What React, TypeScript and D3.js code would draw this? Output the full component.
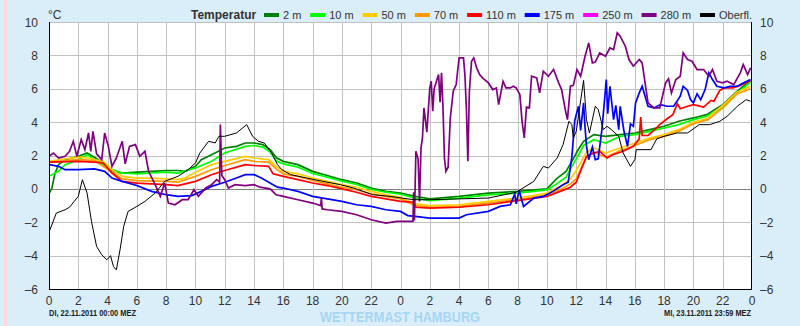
import * as d3 from 'd3';
import React from 'react';

type Pt = [number, number]; // [hour since start, °C]

const FONT = '"Liberation Sans", Arial, sans-serif';
const BG = '#daeefa';

// hours from DI 22.11.2011 00:00 to MI 23.11.2011 23:59
const hourTicks = d3.range(0, 49, 2);
const tempTicks = d3.range(-6, 11, 2);

const t2m: Pt[] = [
  [0, -0.3], [0.2, 0.05], [0.4, 0.9], [0.65, 1.45], [1.1, 1.75], [2, 1.95], [2.6, 2.15], [3.1, 1.9],
  [3.7, 1.55], [4.05, 1.25], [4.5, 1.0], [5, 0.95], [6, 1.0], [7, 1.05], [8, 1.1], [8.8, 1.1],
  [9.3, 1.05], [10, 1.35], [10.4, 1.75], [11.1, 2.05], [12, 2.45], [12.8, 2.55], [13.4, 2.75],
  [14, 2.75], [14.6, 2.65], [15.1, 2.35], [15.55, 1.85], [16, 1.65], [17, 1.45], [18, 1.05],
  [19, 0.8], [20, 0.55], [21, 0.35], [22, 0.05], [23, -0.15], [24, -0.25], [25, -0.45], [26, -0.6],
  [28, -0.45], [30, -0.25], [32, -0.15], [34, 0.0], [34.65, 0.6], [35.3, 1.05], [35.8, 1.8],
  [36.1, 2.3], [36.5, 2.85], [37.2, 3.25], [38, 3.15], [39, 3.25], [40, 3.35], [41, 3.55],
  [42, 3.75], [43, 4.05], [44, 4.25], [44.9, 4.45], [46, 5.05], [47, 5.85], [47.9, 6.5],
];

const t10m: Pt[] = [
  [0, 0.75], [0.65, 1.05], [1.1, 1.45], [2, 1.75], [2.6, 2.05], [3.1, 1.75], [4.05, 1.25], [5, 0.95],
  [6, 0.9], [7, 0.95], [8, 1.0], [8.8, 0.95], [10, 1.25], [11.1, 1.65], [12, 2.15], [13.4, 2.55],
  [14, 2.6], [14.6, 2.5], [15.1, 2.2], [15.55, 1.65], [16, 1.5], [17, 1.3], [18, 0.92], [19, 0.7],
  [20, 0.46], [21, 0.26], [22, -0.04], [23, -0.2], [24, -0.32], [25, -0.55], [26, -0.7], [28, -0.55],
  [30, -0.36], [32, -0.26], [34, -0.06], [34.65, 0.3], [35.3, 0.7], [35.6, 1.2], [36, 1.8],
  [36.5, 2.6], [37.2, 2.95], [38, 2.75], [39, 3.15], [40, 3.25], [41, 3.45], [42, 3.65], [43, 3.85],
  [44, 4.15], [44.9, 4.35], [46, 4.85], [47, 5.75], [47.9, 6.4],
];

const t50m: Pt[] = [
  [0, 1.65], [1.1, 1.8], [2, 1.9], [2.6, 1.85], [3.1, 1.75], [3.7, 1.65], [4.3, 1.15], [5, 0.75],
  [6, 0.65], [7, 0.65], [8, 0.6], [8.8, 0.55], [9.3, 0.65], [10, 1.0], [11.1, 1.45], [12, 1.65],
  [13.4, 1.95], [14, 1.85], [15, 1.75], [15.5, 1.35], [16, 1.05], [17, 0.9], [18, 0.65], [19, 0.45],
  [20, 0.25], [21, 0.1], [22, -0.15], [23, -0.35], [24, -0.5], [25, -0.9], [26, -1.0], [28, -0.95],
  [30, -0.75], [32, -0.55], [34, -0.25], [35, 0.2], [35.6, 0.6], [36, 1.1], [36.7, 2.2], [37.2, 2.45],
  [38, 2.15], [39, 2.45], [40, 2.75], [41, 3.05], [42, 3.25], [43, 3.55], [44, 4.0], [44.9, 4.2],
  [46, 5.0], [47, 5.8], [47.9, 6.15],
];

const t70m: Pt[] = [
  [0, 1.6], [2, 1.75], [3.1, 1.7], [4.3, 1.0], [5, 0.6], [6, 0.5], [8, 0.45], [8.8, 0.4], [10, 0.75],
  [11.1, 1.15], [12, 1.4], [13.4, 1.75], [14, 1.65], [15, 1.6], [15.5, 1.2], [16, 0.9], [17, 0.75],
  [18, 0.5], [19, 0.3], [20, 0.1], [21, -0.05], [22, -0.3], [23, -0.45], [24, -0.6], [25, -1.0],
  [26, -1.1], [28, -1.05], [30, -0.85], [32, -0.65], [34, -0.35], [35, 0.0], [35.6, 0.3], [36, 0.6],
  [36.7, 1.9], [37.2, 2.2], [38, 1.9], [39, 2.3], [40, 2.6], [41, 2.95], [42, 3.15], [43, 3.45],
  [44, 3.9], [45, 4.15], [46, 4.85], [47, 5.7], [47.9, 6.0],
];

const t110m: Pt[] = [
  [0, 1.6], [2, 1.65], [3.1, 1.6], [3.7, 1.55], [4.3, 0.95], [5, 0.45], [6, 0.35], [8, 0.25],
  [8.8, 0.2], [10, 0.45], [11.1, 0.85], [12, 1.1], [13.4, 1.45], [14, 1.4], [15, 1.35], [15.3, 0.9],
  [16, 0.75], [17, 0.55], [18, 0.35], [19, 0.2], [20, 0.0], [21, -0.2], [22, -0.45], [23, -0.6],
  [24, -0.75], [24.9, -0.8], [25.05, -1.1], [26, -1.15], [28, -1.1], [30, -0.95], [32, -0.7],
  [34, -0.45], [34.9, -0.15], [35.6, 0.1], [36, 0.4], [36.4, 1.3], [36.7, 1.95], [37.2, 2.15],
  [37.6, 2.25], [38.1, 1.85], [38.5, 2.05], [39.2, 2.25], [39.9, 2.55], [40.3, 3.0], [40.4, 4.3],
  [40.5, 3.2], [40.9, 3.2], [41.3, 3.5], [41.7, 3.85], [42.2, 4.2], [42.6, 4.45], [42.9, 5.1],
  [43.1, 4.8], [43.6, 4.95], [44, 5.05], [44.7, 4.9], [45.2, 5.3], [45.4, 5.25], [45.8, 5.9],
  [46.1, 6.05], [46.7, 6.05], [47.2, 6.2], [47.9, 6.5],
];

const t175m: Pt[] = [
  [0, 1.45], [0.65, 1.35], [1.1, 1.15], [2, 1.15], [3.1, 1.2], [3.8, 1.05], [4.3, 0.65], [5, 0.45],
  [6, 0.2], [7, -0.15], [8, -0.35], [8.8, -0.45], [9.75, -0.4], [10.4, -0.15], [11.1, 0.15],
  [12, 0.4], [12.8, 0.65], [13.4, 0.85], [14, 0.85], [14.5, 0.65], [15.3, 0.25], [15.6, 0.1],
  [16, 0.05], [17, -0.15], [18, -0.45], [19, -0.6], [20, -0.75], [21, -0.95], [22, -1.05],
  [23, -1.25], [24, -1.35], [24.5, -1.6], [25, -1.65], [26, -1.75], [28, -1.75], [28.5, -1.55],
  [30, -1.35], [30.8, -1.05], [31.5, -0.95], [31.8, -0.3], [31.9, -0.9], [32.1, -0.1], [32.4, -1.05],
  [33.1, -0.55], [33.75, -0.45], [34.4, -0.15], [35.1, 0.25], [35.45, 0.4], [35.7, 1.9], [35.9, 4.1],
  [36.15, 4.95], [36.3, 3.5], [36.5, 5.15], [36.6, 3.7], [36.7, 2.55], [36.85, 1.75], [37.1, 2.5],
  [37.3, 1.75], [37.5, 1.8], [37.75, 3.55], [37.9, 5.0], [38.05, 6.55], [38.15, 4.5], [38.3, 6.15],
  [38.55, 4.15], [38.7, 5.0], [38.9, 3.55], [39.0, 4.95], [39.25, 3.5], [39.5, 2.55], [39.7, 3.9],
  [39.9, 3.75], [40.05, 5.15], [40.3, 5.75], [40.5, 6.15], [40.7, 5.55], [40.9, 4.95], [41.3, 4.85],
  [41.75, 5.05], [42.2, 4.95], [42.65, 4.95], [43.1, 5.55], [43.3, 6.15], [43.6, 5.9], [43.8, 5.35],
  [44, 5.15], [44.25, 5.7], [44.5, 5.35], [44.8, 5.95], [45.05, 6.95], [45.3, 6.55], [45.6, 6.15],
  [46.1, 6.05], [46.5, 6.15], [47, 6.15], [47.4, 6.35], [47.9, 6.55],
];

const t250m: Pt[] = []; // no data in this period

const t280m: Pt[] = [
  [0, 1.95], [0.3, 2.15], [0.65, 1.85], [1.1, 1.95], [1.4, 2.25], [1.66, 2.85], [1.9, 1.95],
  [2.2, 2.95], [2.45, 2.35], [2.7, 3.35], [2.85, 2.25], [3.0, 3.45], [3.25, 2.1], [3.6, 1.75],
  [3.8, 3.35], [4.05, 2.55], [4.3, 1.35], [4.6, 1.85], [5.0, 2.85], [5.2, 1.5], [5.5, 2.55],
  [5.9, 2.65], [6.2, 1.95], [6.55, 2.25], [6.8, 1.05], [7.25, 0.25], [7.6, -0.45], [7.9, 0.35],
  [8.15, -0.85], [8.6, -0.95], [9.1, -0.65], [9.5, -0.65], [9.9, -0.05], [10.2, -0.45], [10.7, 0.05],
  [11.1, 0.25], [11.45, 0.55], [11.65, 0.4], [11.7, 3.85], [11.8, 0.8], [12, 0.55], [12.25, 0.05],
  [12.7, 0.25], [13.4, 0.2], [14, 0.25], [14.4, 0.1], [15.1, 0.0], [15.5, -0.35], [16, -0.45],
  [17, -0.65], [18, -0.85], [18.55, -1.0], [18.6, -0.55], [18.65, -1.2], [19, -1.25], [20, -1.35],
  [21, -1.55], [22, -1.85], [23, -2.05], [23.75, -1.95], [24.85, -1.95], [24.9, -0.2], [24.95, -1.9],
  [25.05, 2.25], [25.2, 1.8], [25.3, -0.75], [25.4, 2.45], [25.5, 3.05], [25.6, 4.85], [25.8, 3.4],
  [26, 6.05], [26.1, 6.45], [26.2, 4.65], [26.3, 6.0], [26.6, 6.85], [26.7, 5.2], [26.8, 6.95],
  [26.9, 4.9], [27.0, 1.85], [27.1, 1.05], [27.25, 1.3], [27.4, 4.25], [27.6, 5.85], [27.8, 6.25],
  [28, 7.85], [28.3, 7.85], [28.4, 6.8], [28.5, 4.8], [28.6, 1.65], [28.7, 5.8], [28.85, 7.65],
  [29.0, 7.85], [29.2, 7.25], [29.4, 6.85], [29.6, 6.65], [30, 6.35], [30.3, 5.95], [30.55, 6.05],
  [30.7, 5.05], [31, 6.45], [31.2, 6.05], [31.5, 6.05], [31.7, 6.15], [31.9, 6.05], [32.15, 5.65],
  [32.3, 4.05], [32.45, 3.05], [32.6, 4.9], [32.8, 4.85], [32.95, 6.75], [33.3, 6.65], [33.5, 5.75],
  [33.75, 7.05], [34.1, 6.75], [34.45, 7.15], [34.8, 6.35], [35.0, 5.95], [35.25, 4.75], [35.4, 4.15],
  [35.6, 6.15], [35.8, 6.2], [36.05, 7.15], [36.3, 6.75], [36.6, 7.95], [36.85, 8.75], [37.1, 7.55],
  [37.3, 7.6], [37.6, 8.15], [38, 7.95], [38.3, 8.45], [38.55, 8.35], [38.8, 9.35], [39, 9.15],
  [39.35, 8.55], [39.6, 7.75], [39.9, 7.35], [40.3, 7.75], [40.5, 7.55], [40.7, 6.35], [40.9, 5.15],
  [41.3, 4.85], [41.7, 4.85], [42.1, 6.35], [42.3, 6.6], [42.5, 5.75], [42.8, 6.55], [43.1, 6.75],
  [43.3, 8.15], [43.6, 7.75], [43.9, 7.65], [44.25, 7.15], [44.7, 7.15], [45.05, 6.75], [45.3, 7.15],
  [45.6, 6.45], [46, 6.35], [46.3, 6.45], [46.75, 6.25], [47.2, 6.95], [47.4, 7.45], [47.7, 6.85],
  [47.9, 7.25],
];

const tSurface: Pt[] = [
  [0, -2.6], [0.5, -1.45], [1.1, -1.25], [1.4, -1.1], [2, -0.45], [2.28, 0.55], [2.6, -0.25],
  [2.9, -1.95], [3.25, -3.45], [3.6, -3.95], [3.95, -4.25], [4.2, -4.0], [4.4, -4.65], [4.6, -4.85],
  [4.85, -3.65], [5.1, -2.25], [5.4, -1.35], [6, -1.05], [6.55, -0.75], [7.25, -0.25], [7.9, 0.45],
  [8.8, 0.75], [9.5, 1.15], [10, 1.55], [10.3, 2.15], [10.9, 2.85], [11.35, 2.75], [11.6, 3.15],
  [12, 3.15], [12.8, 3.35], [13.5, 3.85], [13.9, 3.15], [14.3, 2.85], [14.7, 2.75], [15.2, 2.15],
  [15.6, 1.45], [15.9, 1.15], [16.5, 0.85], [17.6, 0.65], [18.7, 0.45], [19.9, 0.25], [20.8, 0.05],
  [22.1, -0.35], [23.3, -0.45], [24.9, -0.65], [26, -0.65], [28, -0.6], [30, -0.55], [31.9, -0.2],
  [33.1, 0.45], [33.75, 1.35], [34.1, 1.25], [34.7, 1.85], [35.1, 2.65], [35.5, 4.05], [35.7, 3.85],
  [35.8, 3.05], [36, 3.45], [36.5, 6.5], [36.7, 4.15], [36.9, 3.35], [37.3, 4.95], [37.5, 4.75],
  [37.85, 3.55], [38.1, 3.75], [38.4, 3.55], [38.9, 3.15], [39.2, 2.15], [39.7, 1.35], [40, 1.75],
  [40.1, 2.35], [41.1, 2.35], [41.5, 3.0], [42, 3.15], [42.9, 3.35], [43.6, 3.35], [44.4, 3.85],
  [45.1, 3.85], [45.8, 4.05], [46.3, 4.35], [47, 4.95], [47.6, 5.35], [47.9, 5.25],
];

const series = [
  { label: '2 m', color: '#008000', data: t2m, w: 1.7 },
  { label: '10 m', color: '#00ff00', data: t10m, w: 1.7 },
  { label: '50 m', color: '#ffcc00', data: t50m, w: 1.7 },
  { label: '70 m', color: '#ff9900', data: t70m, w: 1.7 },
  { label: '110 m', color: '#ff0000', data: t110m, w: 1.7 },
  { label: '175 m', color: '#0000ff', data: t175m, w: 1.7 },
  { label: '250 m', color: '#ff00ff', data: t250m, w: 1.7 },
  { label: '280 m', color: '#800080', data: t280m, w: 1.7 },
  { label: 'Oberfl.', color: '#000000', data: tSurface, w: 1 },
];

const measure = (() => {
  const ctx = document.createElement('canvas').getContext('2d')!;
  return (s: string, font: string) => {
    ctx.font = font;
    return ctx.measureText(s).width;
  };
})();

const fmt = (v: number) => (v < 0 ? `–${Math.abs(v)}` : `${v}`);

export default function App() {
  const x = d3.scaleLinear().domain([0, 48]).range([49, 752]);
  const y = d3.scaleLinear().domain([-6, 10]).range([289, 22]);
  const line = d3.line<Pt>().x(d => x(d[0])).y(d => y(d[1]));
  const px = (v: number) => Math.round(v) + 0.5;

  // legend layout: "Temperatur" then swatch + label pairs, ending at the plot's right edge
  const labelFont = `11px ${FONT}`;
  const widths = series.map(s => measure(s.label, labelFont));
  const natural = widths.reduce((a, b) => a + b, 0) + series.length * 19;
  const gap = (752 - 264 - natural) / (series.length - 1);
  let cursor = 264;
  const legend = series.map((s, i) => {
    const item = { ...s, x: cursor };
    cursor += 19 + widths[i] + gap;
    return item;
  });

  return (
    <svg width={800} height={326} style={{ position: 'absolute', left: 0, top: 0 }} fontFamily={FONT}>
      <rect width={800} height={326} fill={BG} />
      <rect x={4} width={3} height={326} fill="#ffd9dc" />
      <rect x={49} y={22} width={703} height={267} fill="#fff" />

      {tempTicks.map(t => (
        <line key={`h${t}`} x1={49} x2={752} y1={px(y(t))} y2={px(y(t))}
          stroke={t === 0 ? '#808080' : '#c0c0c0'} strokeWidth={1} />
      ))}
      {hourTicks.slice(1, -1).map(h => (
        <line key={`v${h}`} x1={px(x(h))} x2={px(x(h))} y1={22} y2={289} stroke="#c0c0c0" strokeWidth={1} />
      ))}

      <g clipPath="url(#plot)">
        <clipPath id="plot"><rect x={49} y={22} width={703} height={267} /></clipPath>
        {series.map(s => (
          <path key={s.label} d={line(s.data) || ''} fill="none" stroke={s.color} strokeWidth={s.w}
            strokeLinejoin="miter" />
        ))}
      </g>

      <line x1={49.5} x2={49.5} y1={22} y2={289.5} stroke="#000" />
      <line x1={751.5} x2={751.5} y1={22} y2={289.5} stroke="#000" />
      <line x1={49} x2={752} y1={289.5} y2={289.5} stroke="#000" />

      {tempTicks.map(t => (
        <g key={`yl${t}`} fontSize={12} fill="#333">
          <text x={38} y={y(t) + 4.5} textAnchor="end">{fmt(t)}</text>
          <text x={760} y={y(t) + 4.5}>{fmt(t)}</text>
        </g>
      ))}
      {hourTicks.map(h => (
        <text key={`xl${h}`} x={x(h)} y={305} fontSize={12} fill="#333" textAnchor="middle">{h % 24}</text>
      ))}

      <text x={48} y={19} fontSize={12} fill="#333">°C</text>
      <text x={191} y={19} fontSize={12} fontWeight="bold" fill="#333">Temperatur</text>
      {legend.map(s => (
        <g key={`lg${s.label}`}>
          <rect x={s.x} y={13} width={15} height={4} fill={s.color} />
          <text x={s.x + 19} y={19} fontSize={11} fill="#333">{s.label}</text>
        </g>
      ))}

      <text x={49} y={316} fontSize={9} fontWeight="bold" fill="#222" textLength={87}
        lengthAdjust="spacingAndGlyphs">
        DI, 22.11.2011 00:00 MEZ
      </text>
      <text x={751} y={316} fontSize={9} fontWeight="bold" fill="#222" textAnchor="end" textLength={87}
        lengthAdjust="spacingAndGlyphs">
        MI, 23.11.2011 23:59 MEZ
      </text>
      <text x={400} y={322} fontSize={14} fontWeight="bold" fill="#a6d6f2" textAnchor="middle"
        textLength={160} lengthAdjust="spacingAndGlyphs">
        WETTERMAST HAMBURG
      </text>
    </svg>
  );
}
